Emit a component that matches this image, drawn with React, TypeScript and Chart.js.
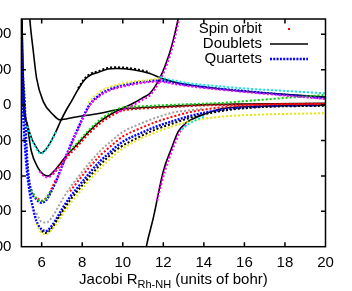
import { useEffect, useRef } from "react";
import { Chart, registerables } from "chart.js";
Chart.register(...registerables);

// ---------- axis setup ----------
const xTicks = [6, 8, 10, 12, 14, 16, 18, 20];
const yTicks = [-4000, -3000, -2000, -1000, 0, 1000, 2000];
const xMin = 5, xMax = 20, yMin = -4000, yMax = 2430;
const legendLabels = ["Spin orbit", "Doublets", "Quartets"];
const xTitleMain = "Jacobi R";
const xTitleSub = "Rh-NH";
const xTitleTail = " (units of bohr)";

// ---------- doublets (black solid) ----------
const dA_R = [5.36, 5.42, 5.59, 5.75, 6.08, 6.57, 6.90, 7.6, 8.88, 9.70, 10.51, 12.17, 13.81, 16.0, 20.0];
const dA_E = [2900, 2393, 1503, 753, 98, -275, -416, -345, -230, -135, -90, -42, 6, 30, 50];
const dB_R = [5.02, 5.08, 5.16, 5.3, 5.51, 5.66, 5.98, 6.21, 6.46, 6.71, 6.95, 7.20, 7.46, 7.79, 8.12, 8.43, 8.78, 9.27, 9.70, 10.51, 11.34, 11.84, 12.58, 13.32, 15.29, 17.76, 20.0];
const dB_E = [2600, 1000, -90, -560, -950, -1118, -1354, -1250, -1025, -744, -435, -154, 98, 435, 716, 857, 921, 1017, 1034, 997, 893, 773, 646, 567, 427, 309, 225];
const dC_R = [5.03, 5.08, 5.24, 5.49, 5.82, 6.07, 6.31, 6.56, 6.81, 7.10, 7.40, 7.73, 8.29, 8.88, 9.27, 9.70, 10.12, 10.51, 10.96, 11.34, 11.59, 11.84, 12.09, 12.33, 12.53, 12.73, 12.87];
const dC_E = [2800, 98, -463, -1306, -1775, -1952, -2008, -1896, -1728, -1517, -1320, -1124, -772, -463, -309, -169, -56, 51, 197, 331, 520, 772, 1110, 1503, 1924, 2430, 2823];
const dD_R = [11.05, 11.15, 11.51, 12.0, 12.41, 12.74, 13.12, 13.56, 14.14, 14.95, 16.28, 18.25, 20.0];
const dD_E = [-4396, -4031, -3180, -1868, -1213, -744, -506, -365, -230, -98, -42, -14, 0];

// ---------- quartets (blue dotted) ----------
const qA_R = [4.97, 5.01, 5.08, 5.16, 5.24, 5.33, 5.49, 5.74, 5.98, 6.23, 6.48, 6.71, 6.95, 7.30, 7.79, 8.37, 8.88, 9.37, 9.86, 10.51, 11.34, 11.84, 12.58, 13.81, 16.28, 20.0];
const qA_E = [1900, 1691, 800, 98, -1025, -1868, -2430, -2663, -2758, -2683, -2430, -2149, -1798, -1306, -660, 14, 295, 449, 534, 612, 680, 688, 618, 520, 379, 191];
const qB_R = [4.98, 5.08, 5.23, 5.40, 5.57, 5.74, 5.98, 6.23, 6.51, 6.81, 7.10, 7.40, 7.79, 8.29, 8.88, 9.37, 9.70, 10.03, 10.85, 11.67, 12.58, 13.32, 14.95, 16.77, 20.0];
const qB_E = [1222, -183, -1587, -2430, -2899, -3272, -3506, -3553, -3402, -3132, -2851, -2598, -2318, -1966, -1587, -1334, -1166, -1025, -801, -604, -435, -309, -126, -42, 0];

// ---------- spin-orbit states (coloured dots) ----------
const soCyanA_R = [5.3, 5.51, 5.66, 5.82, 5.98, 6.21, 6.46, 6.71];
const soCyanA_E = [-600, -970, -1150, -1310, -1375, -1270, -1045, -760];
const soCyanB_R = [11.84, 12.2, 12.58, 13.32, 14.5, 16.0, 18.0, 20.0];
const soCyanB_E = [790, 730, 690, 612, 545, 470, 400, 332];
const soCyanC_R = [12.9, 13.2, 13.6, 14.0];
const soCyanC_E = [-700, -560, -430, -330];
const soYellowA_R = [8.3, 8.6, 8.88, 9.37, 9.86, 10.51, 11.34, 11.84];
const soYellowA_E = [60, 240, 380, 510, 590, 660, 710, 760];
const soYellowB_R = [5.74, 5.98, 6.23, 6.51, 6.81, 7.10, 7.40, 7.79, 8.29, 8.88, 9.37, 10.03, 10.85, 11.67, 12.58, 13.32, 14.1, 14.95, 16.77, 20.0];
const soYellowB_E = [-3350, -3600, -3640, -3520, -3290, -3040, -2790, -2520, -2170, -1800, -1530, -1220, -960, -760, -580, -466, -380, -323, -270, -230];
const soBlackA_R = [7.8, 8.12, 8.43, 8.78, 9.27, 9.70, 10.51, 11.34];
const soBlackA_E = [470, 750, 890, 955, 1050, 1065, 1030, 925];
const soBlackB_R = [5.98, 6.23, 6.51, 6.81, 7.10, 7.40, 7.79, 8.29, 8.88, 9.70, 10.85, 11.67, 12.58, 13.32, 14.95, 16.77, 20.0];
const soBlackB_E = [-3560, -3610, -3470, -3210, -2940, -2690, -2410, -2070, -1690, -1260, -890, -680, -500, -360, -160, -60, -20];
const soGrey_R = [5.74, 5.98, 6.23, 6.51, 6.81, 7.10, 7.40, 7.79, 8.29, 8.88, 9.37, 10.03, 10.85, 11.67, 12.58, 13.32, 14.0];
const soGrey_E = [-3050, -3290, -3320, -3170, -2880, -2590, -2330, -2040, -1680, -1300, -1050, -750, -530, -350, -200, -150, -100];
const soRedLow_R = [7.4, 7.79, 8.29, 8.88, 9.37, 10.03, 10.85, 11.67, 12.58, 13.32, 14.95, 16.77, 20.0];
const soRedLow_E = [-2440, -2150, -1800, -1430, -1180, -880, -660, -470, -310, -200, -60, 10, 40];
const soMagentaA_R = [6.71, 6.95, 7.30, 7.79, 8.37, 8.88, 9.37, 9.86, 10.51, 11.34, 11.84, 12.58, 13.81, 16.28, 20.0];
const soMagentaA_E = [-2180, -1830, -1340, -700, -20, 260, 415, 500, 580, 650, 660, 590, 495, 355, 170];
const soMagentaB_R = [5.9, 6.07, 6.31, 6.56, 6.81];
const soMagentaB_E = [-1875, -1990, -2045, -1935, -1765];
const soMagentaC_R = [9.70, 10.12, 10.51, 10.96, 11.34, 11.59, 11.84, 12.09, 12.33, 12.53, 12.73, 12.87];
const soMagentaC_E = [-220, -110, -10, 140, 270, 450, 690, 1010, 1390, 1800, 2290, 2680];
const soMagentaD_R = [11.7, 12.08, 12.49, 12.84, 13.2];
const soMagentaD_E = [-2700, -1868, -1213, -744, -520];
const soGreenA_R = [5.49, 5.74, 5.98, 6.23, 6.48];
const soGreenA_E = [-2390, -2625, -2720, -2645, -2390];
const soRedA_R = [5.8, 5.98, 6.23, 6.48, 6.71];
const soRedA_E = [-2640, -2700, -2620, -2370, -2090];
const soRedB_R = [6.56, 6.81, 7.10, 7.40, 7.73, 8.29, 8.88, 9.27, 9.70, 10.12, 10.51, 12.17, 13.81, 16.0, 20.0];
const soRedB_E = [-1960, -1790, -1580, -1380, -1185, -830, -520, -365, -225, -140, -115, -65, -15, 10, 30];
const soGreenB_R = [7.40, 7.73, 8.29, 8.88, 9.27, 9.70, 10.12, 10.51, 12.17, 13.81, 14.95, 16.0, 18.0, 20.0];
const soGreenB_E = [-1280, -1085, -730, -420, -265, -125, -55, -45, 0, 35, 60, 110, 200, 287];

// ---------- layout (page pixels) ----------
const SHIFT = 40; // canvas extends past the left page edge; y labels get clipped like the reference
const CW = 352 + SHIFT, CH = 291;
const PLOT_L = 21.4 + SHIFT, PLOT_R = 325.5 + SHIFT, PLOT_T = 17, PLOT_B = 246.7;
const FONT = "'Liberation Sans', Arial, Helvetica, sans-serif";

const pts = (r: number[], e: number[]) => r.map((x, i) => ({ x, y: e[i] }));

const RED = "#ff0000", GREEN = "#00d000", BLUE = "#0000ff", MAGENTA = "#ff00ff",
  CYAN = "#00e8e8", YELLOW = "#e8e800", GREY = "#a0a0a0", BLACK = "#000000";

function line(r: number[], e: number[], color: string, kind: "d" | "q" | "s") {
  return {
    data: pts(r, e),
    borderColor: color,
    backgroundColor: color,
    borderWidth: kind === "d" ? 1.6 : kind === "q" ? 2.4 : 2,
    borderDash: kind === "d" ? [] : kind === "q" ? [2, 1.3] : [2, 2],
    borderCapStyle: "butt" as const,
    pointRadius: 0,
    fill: false,
    showLine: true,
    cubicInterpolationMode: "monotone" as const,
    order: kind === "d" ? 3 : kind === "q" ? 2 : 1,
  };
}

const framePlugin = {
  id: "gnuplotFrame",
  afterDraw(chart: any) {
    const { ctx, chartArea: a, scales } = chart;
    ctx.save();
    ctx.strokeStyle = "#000";
    ctx.lineWidth = 1.5;
    ctx.setLineDash([]);
    ctx.strokeRect(a.left, a.top, a.right - a.left, a.bottom - a.top);
    const tl = 4.5;
    ctx.beginPath();
    for (const v of xTicks) {
      const px = scales.x.getPixelForValue(v);
      if (px <= a.left + 1 || px >= a.right - 1) continue;
      ctx.moveTo(px, a.bottom); ctx.lineTo(px, a.bottom - tl);
      ctx.moveTo(px, a.top); ctx.lineTo(px, a.top + tl);
    }
    for (const v of yTicks) {
      const py = scales.y.getPixelForValue(v);
      if (py <= a.top + 1 || py >= a.bottom - 1) continue;
      ctx.moveTo(a.left, py); ctx.lineTo(a.left + tl, py);
      ctx.moveTo(a.right, py); ctx.lineTo(a.right - tl, py);
    }
    ctx.stroke();

    // legend (gnuplot style: right-aligned text, sample to the right)
    ctx.fillStyle = "#000";
    ctx.font = `15px ${FONT}`;
    ctx.textAlign = "right";
    ctx.textBaseline = "middle";
    const tx = 262 + SHIFT;
    const rows = [29, 44, 59];
    legendLabels.forEach((t, i) => ctx.fillText(t, tx, rows[i]));
    ctx.fillStyle = RED;
    ctx.fillRect(289 + SHIFT - 1, rows[0] - 1, 2, 2);
    ctx.strokeStyle = BLACK;
    ctx.lineWidth = 1.6;
    ctx.beginPath(); ctx.moveTo(270 + SHIFT, rows[1]); ctx.lineTo(308 + SHIFT, rows[1]); ctx.stroke();
    ctx.strokeStyle = BLUE;
    ctx.lineWidth = 2.4;
    ctx.setLineDash([2, 1.3]);
    ctx.beginPath(); ctx.moveTo(270 + SHIFT, rows[2]); ctx.lineTo(308 + SHIFT, rows[2]); ctx.stroke();
    ctx.setLineDash([]);

    // x axis title with subscript
    ctx.fillStyle = "#000";
    ctx.textAlign = "left";
    ctx.textBaseline = "alphabetic";
    const mainFont = `15px ${FONT}`, subFont = `11px ${FONT}`;
    ctx.font = mainFont; const w1 = ctx.measureText(xTitleMain).width; const w3 = ctx.measureText(xTitleTail).width;
    ctx.font = subFont; const w2 = ctx.measureText(xTitleSub).width;
    const total = w1 + w2 + w3;
    let x0 = (a.left + a.right) / 2 - total / 2;
    const base = 284;
    ctx.font = mainFont; ctx.fillText(xTitleMain, x0, base); x0 += w1;
    ctx.font = subFont; ctx.fillText(xTitleSub, x0, base + 4); x0 += w2;
    ctx.font = mainFont; ctx.fillText(xTitleTail, x0, base);
    ctx.restore();
  },
};

export default function App() {
  const ref = useRef<HTMLCanvasElement | null>(null);
  useEffect(() => {
    if (!ref.current) return;
    const datasets: any[] = [
      // quartets
      line(qA_R, qA_E, BLUE, "q"),
      line(qB_R, qB_E, BLUE, "q"),
      // doublets
      line(dA_R, dA_E, BLACK, "d"),
      line(dB_R, dB_E, BLACK, "d"),
      line(dC_R, dC_E, BLACK, "d"),
      line(dD_R, dD_E, BLACK, "d"),
      // spin orbit
      line(soCyanA_R, soCyanA_E, CYAN, "s"),
      line(soCyanB_R, soCyanB_E, CYAN, "s"),
      line(soCyanC_R, soCyanC_E, CYAN, "s"),
      line(soYellowA_R, soYellowA_E, YELLOW, "s"),
      line(soYellowB_R, soYellowB_E, YELLOW, "s"),
      line(soBlackA_R, soBlackA_E, BLACK, "s"),
      line(soBlackB_R, soBlackB_E, BLACK, "s"),
      line(soGrey_R, soGrey_E, GREY, "s"),
      line(soRedLow_R, soRedLow_E, RED, "s"),
      line(soMagentaA_R, soMagentaA_E, MAGENTA, "s"),
      line(soMagentaB_R, soMagentaB_E, MAGENTA, "s"),
      line(soMagentaC_R, soMagentaC_E, MAGENTA, "s"),
      line(soMagentaD_R, soMagentaD_E, MAGENTA, "s"),
      line(soGreenA_R, soGreenA_E, GREEN, "s"),
      line(soRedA_R, soRedA_E, RED, "s"),
      line(soRedB_R, soRedB_E, RED, "s"),
      line(soGreenB_R, soGreenB_E, GREEN, "s"),
    ];
    const chart = new Chart(ref.current, {
      type: "line",
      data: { datasets },
      options: {
        animation: false,
        responsive: false,
        maintainAspectRatio: false,
        layout: { padding: { left: 0, right: CW - PLOT_R, top: PLOT_T, bottom: 0 } },
        plugins: { legend: { display: false }, tooltip: { enabled: false } },
        scales: {
          x: {
            type: "linear",
            min: xMin,
            max: xMax,
            afterBuildTicks: (s: any) => { s.ticks = xTicks.map((v) => ({ value: v })); },
            afterFit: (s: any) => { s.height = CH - PLOT_B; },
            grid: { display: false, drawTicks: false },
            border: { display: false },
            ticks: {
              color: "#000",
              font: { size: 15, family: FONT },
              padding: 7,
              maxRotation: 0,
              autoSkip: false,
              callback: (v: any) => String(v),
            },
          },
          y: {
            type: "linear",
            min: yMin,
            max: yMax,
            afterBuildTicks: (s: any) => { s.ticks = yTicks.map((v) => ({ value: v })); },
            afterFit: (s: any) => { s.width = PLOT_L; },
            grid: { display: false, drawTicks: false },
            border: { display: false },
            ticks: {
              color: "#000",
              font: { size: 15, family: FONT },
              padding: 10,
              autoSkip: false,
              callback: (v: any) => String(v),
            },
          },
        },
      },
      plugins: [framePlugin],
    } as any);
    return () => chart.destroy();
  }, []);
  return (
    <div style={{ position: "absolute", left: -SHIFT, top: 0, width: CW, height: CH, background: "#fff" }}>
      <canvas ref={ref} width={CW} height={CH} style={{ display: "block", width: CW, height: CH }} />
    </div>
  );
}
